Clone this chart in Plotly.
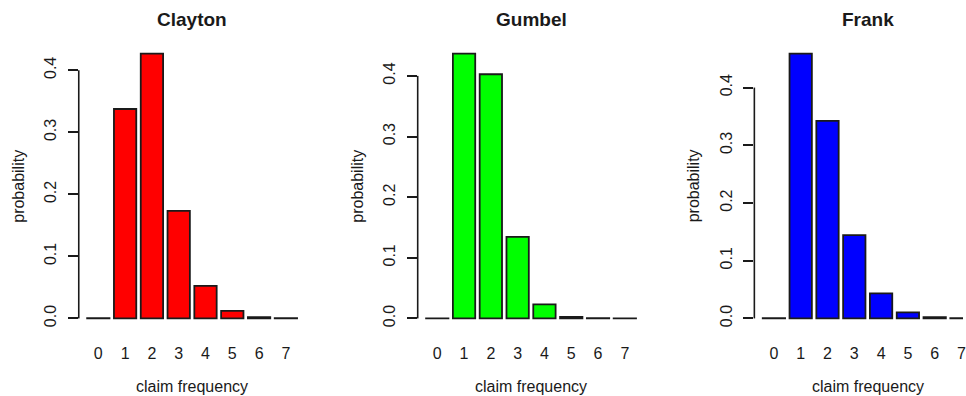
import plotly.graph_objects as go

# Claim-frequency distributions under three copula models
freq_labels = ["0", "1", "2", "3", "4", "5", "6", "7"]
clayton = [0.0003, 0.3376, 0.4269, 0.1733, 0.0525, 0.0123, 0.0022, 0.0004]
gumbel = [0.0002, 0.4368, 0.4027, 0.1345, 0.0231, 0.0025, 0.0004, 0.0002]
frank = [0.0003, 0.4589, 0.3422, 0.1443, 0.0433, 0.0104, 0.0022, 0.0005]

titles = ["Clayton", "Gumbel", "Frank"]
colors = ["#ff0000", "#00ff00", "#0000ff"]
series = [clayton, gumbel, frank]

y_ticks = [0.0, 0.1, 0.2, 0.3, 0.4]
y_ticktext = ["0.0", "0.1", "0.2", "0.3", "0.4"]

W, H = 966, 396
FONT = "Liberation Sans, Arial, sans-serif"
INK = "#1a1a1a"

# plot-region placement (pixels)
lefts = [79, 419, 756.7]
plot_w = 227.4
top_px, bot_px = 43, 329
full_range = [-0.73, 7.73]
px_per_unit = plot_w / (full_range[1] - full_range[0])

fig = go.Figure()
annotations = []
shapes = []

for i, (name, col, vals) in enumerate(zip(titles, colors, series)):
    n = i + 1
    xa = "x" if n == 1 else f"x{n}"
    ya = "y" if n == 1 else f"y{n}"
    fig.add_trace(go.Bar(
        x=freq_labels, y=vals, xaxis=xa, yaxis=ya,
        marker=dict(color=col, line=dict(color=INK, width=1.8)),
        showlegend=False, hoverinfo="x+y",
    ))

    left = lefts[i]
    right = min(left + plot_w, W)
    xr = [full_range[0], full_range[0] + (right - left) / px_per_unit]
    ymax = max(vals)
    yr = [-0.04 * ymax, 1.04 * ymax]

    xkey = "xaxis" if n == 1 else f"xaxis{n}"
    ykey = "yaxis" if n == 1 else f"yaxis{n}"
    fig.update_layout(**{
        xkey: dict(
            domain=[left / W, right / W], anchor=ya, type="category",
            range=xr, showgrid=False, zeroline=False, showline=False,
            ticks="outside", ticklen=10, tickcolor="rgba(0,0,0,0)",
            tickfont=dict(family=FONT, size=16, color=INK),
            fixedrange=True,
        ),
        ykey: dict(
            domain=[1 - bot_px / H, 1 - top_px / H], anchor=xa,
            range=yr, showgrid=False, zeroline=False, showline=False,
            tickvals=y_ticks, ticktext=y_ticktext, tickangle=-90,
            ticks="outside", ticklen=10, tickwidth=1.6, tickcolor=INK,
            ticklabelstandoff=5,
            tickfont=dict(family=FONT, size=16, color=INK),
            fixedrange=True,
        ),
    })

    # y axis line spanning the tick range only
    shapes.append(dict(
        type="line", xref=f"{xa} domain", yref=ya,
        x0=0, x1=0, y0=y_ticks[0], y1=y_ticks[-1],
        line=dict(color=INK, width=1.6),
    ))

    mid = (len(freq_labels) - 1) / 2
    annotations.append(dict(
        text=f"<b>{name}</b>", xref=xa, x=mid, yref="paper", y=1 - 19 / H,
        xanchor="center", yanchor="middle", showarrow=False,
        font=dict(family=FONT, size=19, color=INK),
    ))
    annotations.append(dict(
        text="claim frequency", xref=xa, x=mid, yref="paper", y=1 - 386.5 / H,
        xanchor="center", yanchor="middle", showarrow=False,
        font=dict(family=FONT, size=16, color=INK),
    ))
    annotations.append(dict(
        text="probability", xref=f"{xa} domain", x=0, xshift=-61,
        yref=f"{ya} domain", y=0.5, textangle=-90,
        xanchor="center", yanchor="middle", showarrow=False,
        font=dict(family=FONT, size=16, color=INK),
    ))

fig.update_layout(
    width=W, height=H, margin=dict(l=0, r=0, t=0, b=0),
    paper_bgcolor="white", plot_bgcolor="white",
    bargap=1 / 6, annotations=annotations, shapes=shapes,
)

fig.write_html("out.html", config={"displayModeBar": False})
